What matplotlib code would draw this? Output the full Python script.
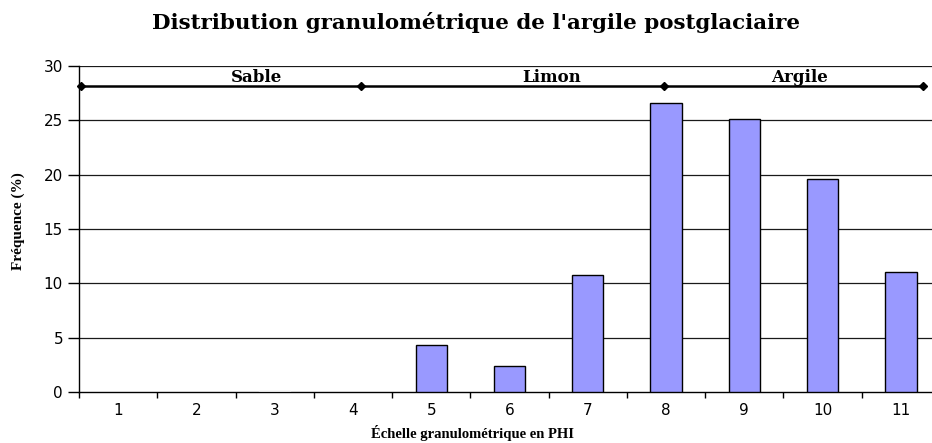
import matplotlib.pyplot as plt
import numpy as np

# Data
phi = [1, 2, 3, 4, 5, 6, 7, 8, 9, 10, 11]
frequence = [0, 0, 0.05, 0, 4.3, 2.4, 10.8, 26.6, 25.1, 19.6, 11.05]

# Grain size classes drawn as a bracket line across the top
classes = ["Sable", "Limon", "Argile"]
class_bounds = [0.52, 4.1, 7.97, 11.28]
class_label_x = [2.77, 6.54, 9.7]
class_line_y = 28.2

yticks = [0, 5, 10, 15, 20, 25, 30]

fig = plt.figure(figsize=(9.32, 4.43), dpi=100)
ax = fig.add_axes([0.0848, 0.1151, 0.9238, 0.7359])

x = np.arange(len(phi))
# near-zero bars only show as a faint line in the original
edges = ["black" if v >= 0.5 else "#e0e0e0" for v in frequence]
widths = [1.0 if v > 0 else 0 for v in frequence]
ax.bar(x, frequence, width=0.4, color="#9999FF", edgecolor=edges,
       linewidth=widths, zorder=3)

ax.set_xlim(-0.5, len(phi) - 0.5)
ax.set_ylim(0, 30)
ax.set_yticks(yticks)
ax.set_yticklabels([str(v) for v in yticks], fontsize=11,
                   fontfamily="DejaVu Sans")
for v in yticks[1:]:
    ax.axhline(v, color="#1a1a1a", linewidth=0.9, zorder=1)

# category separators as ticks, labels in the middle
ax.set_xticks(np.arange(len(phi) + 1) - 0.5)
ax.set_xticklabels([])
ax.set_xticks(x, minor=True)
ax.set_xticklabels([str(p) for p in phi], minor=True, fontsize=11,
                   fontfamily="DejaVu Sans")
ax.tick_params(axis="x", which="minor", length=0, pad=8)
ax.tick_params(axis="x", which="major", length=4, width=1, direction="out")
ax.tick_params(axis="y", length=8, width=1, direction="out", pad=3.5)

for side in ["top", "right"]:
    ax.spines[side].set_visible(False)
ax.spines["left"].set_linewidth(1.0)
ax.spines["bottom"].set_linewidth(1.0)

# class bracket line
bx = [b - 1 for b in class_bounds]
ax.plot(bx, [class_line_y] * len(bx), color="black", linewidth=1.8,
        marker="D", markersize=4, zorder=4, clip_on=False)
for name, lx in zip(classes, class_label_x):
    ax.text(lx - 1, 28.5, name, ha="center", va="baseline", fontsize=12,
            fontweight="bold", fontfamily="DejaVu Serif")

fig.text(0.511, 1 - 29 / 443, "Distribution granulométrique de l'argile postglaciaire",
         ha="center", va="baseline", fontsize=15.4, fontweight="bold",
         fontfamily="DejaVu Serif")
fig.text(0.507, 0.022, "Échelle granulométrique en PHI", ha="center",
         va="center", fontsize=10.5, fontweight="bold",
         fontfamily="Liberation Serif")
fig.text(0.02, 0.501, "Fréquence (%)", ha="center", va="center",
         rotation=90, fontsize=11, fontweight="bold",
         fontfamily="Liberation Serif")

fig.savefig("out.png", dpi=100)
